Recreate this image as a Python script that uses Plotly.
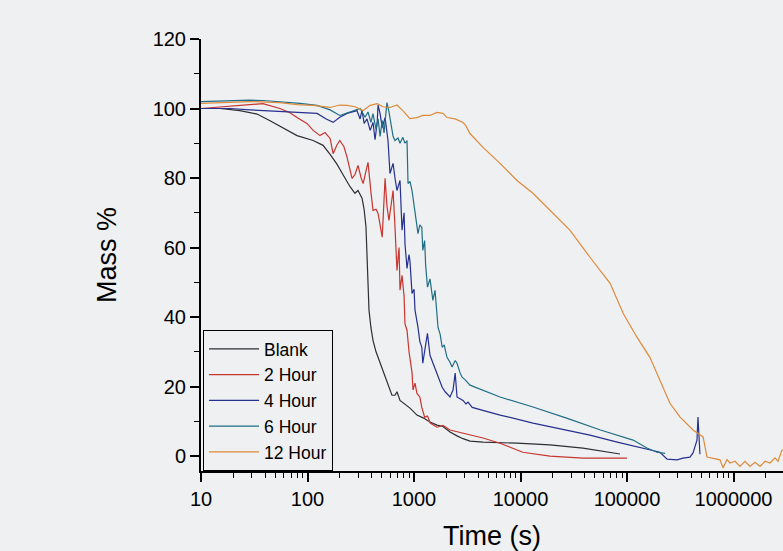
import plotly.graph_objects as go

# ---- data ----
series_names = ["Blank", "2 Hour", "4 Hour", "6 Hour", "12 Hour"]

blank_t = [10, 15.1, 23.2, 33.6, 44.5, 58.9, 79.7, 113, 140, 163, 189, 215, 251, 279, 298, 325, 340, 354,
           362, 370, 378, 394, 412, 440, 480, 523, 557, 621, 663, 692, 739, 823, 917, 1066, 1216, 1413,
           1644, 1872, 2178, 2535, 2884, 3357, 4446, 9272, 18900, 38600, 62100, 85900]
blank_m = [100, 100, 99.4, 98.4, 96.5, 94.5, 92.2, 90.8, 89.4, 86.8, 84, 81, 77.5, 75.6, 76.4, 74.2, 71, 66,
           58, 48, 42, 37, 33.3, 30, 26.7, 23.5, 21, 17.5, 17.5, 18.5, 16, 14.8, 13.8, 11.8, 11, 9.8,
           8.9, 8.5, 6.9, 5.8, 5.0, 4.3, 4.0, 3.7, 3.2, 2.3, 1.3, 0.6]

h2_t = [10, 18.7, 28.8, 38.2, 55.1, 68.5, 79.7, 98.8, 113, 131, 146, 163, 174, 189, 201, 220, 235, 262, 279,
        298, 319, 333, 354, 370, 394, 412, 440, 460, 503, 523, 535, 557, 582, 608, 636, 663, 692, 724, 739,
        772, 807, 823, 860, 898, 917, 958, 979, 1022, 1066, 1134, 1184, 1258, 1338, 1422, 1644, 1872, 2178,
        2535, 2884, 3357, 4446, 6424, 10500, 18900, 38600, 99900]
h2_m = [100, 100.6, 101.2, 101.4, 100, 98.8, 97.4, 95.7, 93.7, 92.2, 93.1, 91.4, 87, 89.5, 90.8, 89, 86, 79.9, 81,
        83.6, 80, 78.4, 82, 84.5, 76, 70.7, 71, 69.8, 63, 72, 79.9, 72, 67.8, 72, 76.4, 66, 53.4, 60, 47.7,
        52, 46, 38, 36.2, 30, 28.4, 24, 19, 21, 18, 17, 14, 11.2, 11.5, 9.5, 8.3, 8.8, 7.5,
        7, 6.5, 6.0, 5.2, 3.7, 1.1, 0, -0.6, -0.6]

h4_t = [10, 18.7, 28.8, 38.2, 55.1, 79.7, 123, 150, 174, 201, 235, 291, 312, 325, 340, 362, 388, 412, 431, 451,
        460, 480, 503, 535, 570, 595, 636, 663, 692, 739, 772, 807, 823, 860, 898, 917, 958, 1001, 1022, 1090,
        1134, 1184, 1209, 1286, 1338, 1413, 1470, 1575, 1644, 1761, 1839, 1961, 2040, 2178, 2325, 2436, 2535,
        2705, 2884, 3076, 3215, 3520, 6424, 13100, 27100, 44900, 80900, 141000, 204000, 238000, 295000,
        335000, 390000, 417000, 454000, 464000, 475000, 484000]
h4_m = [100, 100, 99.6, 99.4, 99, 98.9, 98.6, 97, 96, 97.5, 98.6, 99.4, 97, 99.5, 95.7, 97, 93.7, 96, 91, 96,
        101, 98.6, 94.5, 97.4, 90.8, 81.3, 84.2, 80, 76.4, 79.3, 65, 70, 61, 54, 58, 56, 46.8, 48, 42, 37,
        33, 31.3, 26.7, 32, 35.3, 29, 27.6, 25, 23.9, 21.5, 19.8, 18.5, 18, 17, 19, 23.9, 17,
        16.5, 16, 15, 15.5, 14, 11.8, 9.5, 7.5, 6, 4, 2.3, 1.1, -0.9, -1.1,
        -0.6, -0.3, 0.9, 4.6, 11.2, 2, 0.5]

h6_t = [10, 18.7, 28.8, 38.2, 55.1, 85, 123, 163, 201, 251, 312, 347, 370, 394, 412, 440, 460, 480, 503, 523,
        546, 557, 582, 608, 636, 663, 708, 739, 785, 823, 860, 879, 917, 958, 1001, 1045, 1066, 1090, 1134,
        1184, 1209, 1258, 1286, 1338, 1413, 1504, 1575, 1644, 1681, 1761, 1839, 1920, 2040, 2178, 2277, 2436,
        2535, 2705, 2826, 3009, 3215, 3357, 6424, 13100, 27100, 56300, 114000, 154000, 191000, 228000]
h6_m = [102, 102.3, 102.4, 102.3, 102, 101.5, 100.9, 99.6, 98, 99, 100, 97.5, 99, 96, 98.5, 94, 97, 92, 96.5, 93,
        99.5, 101.7, 99, 95, 92, 90.8, 91.5, 90, 91.7, 90, 90.8, 78.4, 79, 76.4, 72, 69, 67, 64, 66.5,
        65.8, 59.2, 62, 55, 48.6, 51, 44.8, 47.7, 40, 37, 35, 31.3, 32, 28.4, 27, 25.6, 27.5,
        26.7, 24, 22.7, 22, 21, 20.4, 17, 14.1, 10.9, 7.5, 4.6, 2.3, 1.1, 0.8]

h12_t = [10, 18.7, 28.8, 55.1, 79.7, 113, 163, 201, 235, 279, 333, 388, 451, 513, 595, 692, 785, 917, 1066,
         1209, 1413, 1644, 1872, 2040, 2436, 2884, 3076, 3357, 4446, 6424, 9272, 13100, 18900, 29100, 44900,
         69400, 92200, 124000, 164000, 204000, 253000, 315000, 417000, 518000, 564000, 747000, 797000,
         869000, 927000, 1033000, 1150000, 1282000, 1428000, 1592000, 1774000, 1977000, 2203000, 2455000,
         2618000, 2853000, 3400000]
h12_m = [101.5, 101.7, 102, 101.7, 101.1, 100.9, 100.3, 101, 100.9, 100.5, 99.4, 100.9, 101.4, 100.5, 100.3,
         101, 99.4, 97.1, 97.4, 98, 98, 98.9, 98.6, 97.4, 97, 96, 95, 92.8, 88.8, 84.2, 79.3, 75.6, 70.7,
         65, 57.2, 49.7, 41, 34.2, 28.4, 21.8, 15.2, 11.2, 7.5, 5.5, -0.3, -1.1, -3.4, -1, -2, -1.5, -3,
         -1.5, -3, -1.8, -3, -1.5, -2, -0.5, -1.5, 1.7, 3]

x_tick_vals = [10, 100, 1000, 10000, 100000, 1000000]
x_tick_text = ["10", "100", "1000", "10000", "100000", "1000000"]
y_tick_vals = [0, 20, 40, 60, 80, 100, 120]

colors = ["#2e2e33", "#c8352e", "#25308f", "#1f6e86", "#dd8a3a"]

BG = "#eff0f2"
FONT = "Liberation Sans, Arial, sans-serif"

fig = go.Figure()
for name, t, m, c in zip(series_names,
                         [blank_t, h2_t, h4_t, h6_t, h12_t],
                         [blank_m, h2_m, h4_m, h6_m, h12_m],
                         colors):
    fig.add_trace(go.Scatter(x=t, y=m, mode="lines", name=name,
                             line=dict(color=c, width=1.2)))

xr = [1, 1 + 582 / 106.5]
fig.update_layout(
    width=783, height=551,
    margin=dict(l=201, r=0, t=39, b=80, autoexpand=False),
    paper_bgcolor=BG, plot_bgcolor=BG,
    font=dict(family=FONT, size=20, color="black"),
    showlegend=True,
    legend=dict(x=0.0035, y=0.0, xanchor="left", yanchor="bottom",
                bgcolor=BG, bordercolor="black", borderwidth=1,
                font=dict(size=17.5), tracegroupgap=0, itemwidth=50),
    xaxis=dict(type="log", range=xr, showgrid=False, zeroline=False, automargin=False,
               showline=True, linecolor="black", linewidth=2,
               ticks="outside", ticklen=9, tickwidth=1.5, tickcolor="black",
               tickvals=x_tick_vals, ticktext=x_tick_text,
               minor=dict(ticks="outside", ticklen=5, tickwidth=1, tickcolor="black",
                          dtick="D1", showgrid=False),
               title=dict(text="Time (s)", font=dict(size=27), standoff=19)),
    xaxis2=dict(type="log", range=xr, overlaying="x", side="top", anchor="y", automargin=False,
                showgrid=False, zeroline=False, showline=True, linecolor="black", linewidth=2,
                ticks="inside", ticklen=8, tickwidth=1.5, tickcolor="black",
                tickvals=x_tick_vals, showticklabels=False,
                minor=dict(ticks="inside", ticklen=5, tickwidth=1, tickcolor="black",
                           dtick="D1", showgrid=False)),
    yaxis=dict(range=[-4.3, 120], showgrid=False, zeroline=False, automargin=False,
               showline=True, linecolor="black", linewidth=2,
               ticks="outside", ticklen=9, tickwidth=1.5, tickcolor="black",
               tickvals=y_tick_vals,
               minor=dict(ticks="outside", ticklen=5, tickwidth=1, tickcolor="black",
                          dtick=10, showgrid=False),
               title=dict(text="Mass %", font=dict(size=27), standoff=28)),
)

fig.write_html("out.html",
               config={"displayModeBar": False},
               post_script="document.body.style.margin='0';"
                           "document.body.style.background='#eff0f2';"
                           "document.body.style.overflow='hidden';")
